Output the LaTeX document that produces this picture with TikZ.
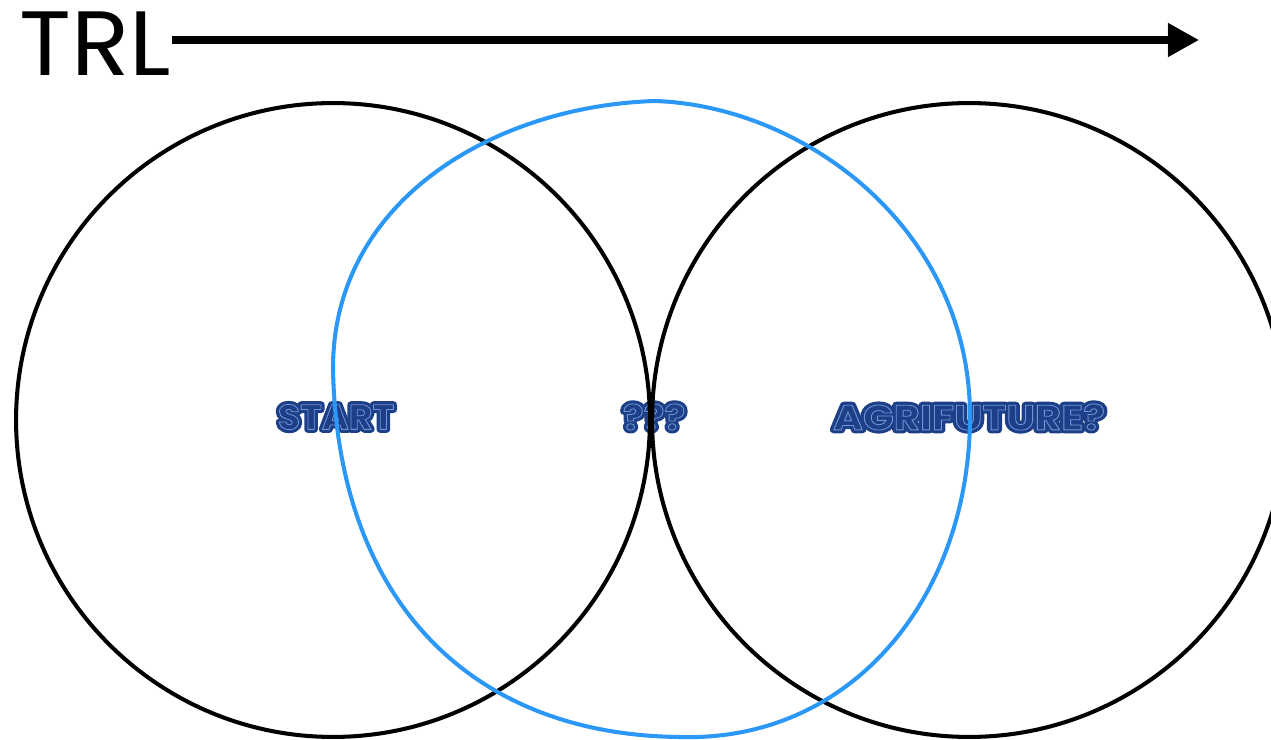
\documentclass[tikz,border=0pt]{standalone}
\usepackage{fontspec}
\setmainfont{Poppins}
\usetikzlibrary{arrows.meta}
\definecolor{blobblue}{HTML}{2B97F7}
\definecolor{lbldark}{HTML}{1D3F88}
\newcommand\outlinedtext[1]{%
  \makebox[0pt][l]{\color{lbldark}\special{pdf:literal direct 2 Tr 4 w 1 j 1 J 0.114 0.247 0.533 RG}#1\special{pdf:literal direct 0 Tr}}%
  {\color{lbldark}\special{pdf:literal direct 1 Tr 0.45 w 1 j 0.45 0.58 0.84 RG}#1\special{pdf:literal direct 0 Tr}}}
\begin{document}
\begin{tikzpicture}[x=0.02cm,y=-0.02cm,
  ring/.style={circle, draw=black, line width=2.3pt, minimum size=12.68cm, inner sep=0pt},
  lbl/.style={inner sep=0pt, font=\fontsize{20}{20}\selectfont\bfseries},
  axis/.style={line width=4pt, -{Triangle[length=17.6pt,width=18.2pt]}},
  axisshadow/.style={line width=5pt, draw=black, draw opacity=0.1, -{Triangle[length=18pt,width=19pt]}, shift={(1,3)}},
  blobline/.style={draw=blobblue, line width=2.3pt}]
\useasboundingbox (0,0) rectangle (1271,740);
\clip (0,0) rectangle (1271,740);
% labels
\node[lbl, xscale=1.04] (start) at (336,417) {\outlinedtext{START}};
\node[lbl, xscale=1.1] (mid) at (654,417) {\outlinedtext{???}};
\node[lbl, xscale=1.15] (agri) at (969,417) {\outlinedtext{AGRIFUTURE?}};
% circles
\node[ring] (left) at (333,420) {};
\node[ring] (right) at (969,420) {};
% blob
\draw[blobline] (655,101) .. controls (805,106) and (972,230) .. (970,420)
  .. controls (968,600) and (850,742) .. (680,737)
  .. controls (470,735) and (338,600) .. (333,370)
  .. controls (332,200) and (495,106) .. cycle;
% TRL axis
\node[anchor=base west, inner sep=0pt, xscale=1.05, font=\fontsize{52}{52}\selectfont] (trl) at (19,76) {TRL};
\coordinate (a1) at (172,40);
\coordinate (a2) at (1199,40);
\draw[axisshadow] (a1) -- (a2);
\draw[axis] (a1) -- (a2);
\end{tikzpicture}
\end{document}
